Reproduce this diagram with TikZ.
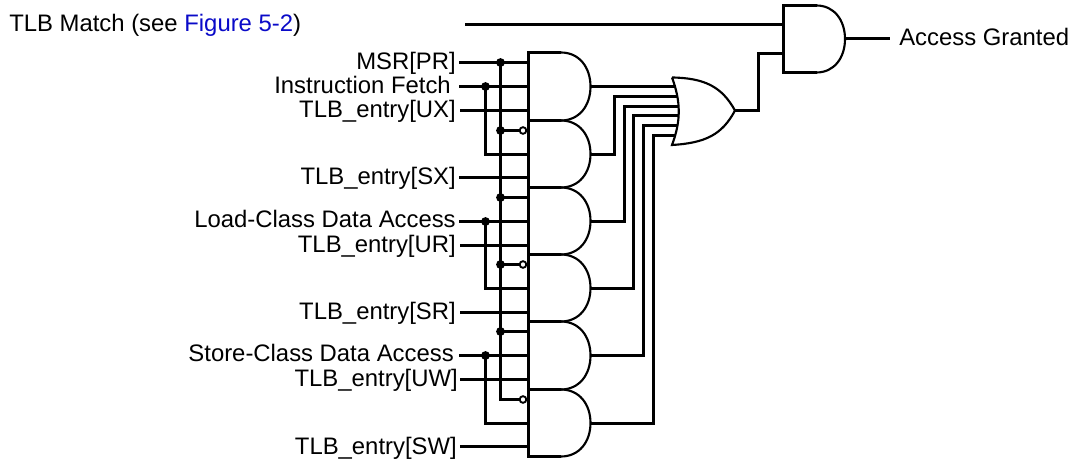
\documentclass[tikz,border=0pt]{standalone}
\usepackage{fontspec}
\setmainfont{Liberation Sans}
\definecolor{linkblue}{RGB}{10,10,200}
\usetikzlibrary{calc}
\tikzset{
  x=0.75pt,y=-0.75pt,
  wire/.style={line width=2.1pt,line cap=butt,line join=miter},
  gateedge/.style={line width=2.1pt},
  gatearc/.style={line width=1.6pt},
  sig/.style={font=\fontsize{17.9pt}{20pt}\selectfont,inner sep=0pt,anchor=base east},
  sigl/.style={font=\fontsize{17.9pt}{20pt}\selectfont,inner sep=0pt,anchor=base west},
  junction/.style={circle,fill=black,inner sep=0pt,minimum size=6.6pt},
  bubble/.style={circle,draw=black,fill=white,line width=1.4pt,inner sep=0pt,minimum size=5pt},
}
\newcommand{\andgate}[6]{% name, left x, top y, bottom y, arc-start x, tip x
  \coordinate (#1tl) at (#2,#3);
  \coordinate (#1bl) at (#2,#4);
  \coordinate (#1ts) at (#5,#3);
  \coordinate (#1bs) at (#5,#4);
  \coordinate (#1out) at (#6,{(#3+#4)/2});
  \draw[gateedge] (#1bs) -- (#1bl) -- (#1tl) -- (#1ts);
  \draw[gatearc] (#1ts) .. controls ($(#1ts)!0.62!(#6,#3)$) and (#6,{#3+0.22*(#4-#3)}) .. (#1out)
     .. controls (#6,{#4-0.22*(#4-#3)}) and ($(#1bs)!0.62!(#6,#4)$) .. (#1bs);
}
\begin{document}
\begin{tikzpicture}
\useasboundingbox (0,0) rectangle (1071,459);
% gates
\andgate{GA}{528.5}{52.5}{120.5}{561}{590.5}
\andgate{GB}{528.5}{120.5}{187.5}{561}{590.5}
\andgate{GC}{528.5}{187.5}{254.5}{561}{590.5}
\andgate{GD}{528.5}{254.5}{321.5}{561}{590.5}
\andgate{GE}{528.5}{321.5}{389.5}{561}{590.5}
\andgate{GF}{528.5}{389.5}{456.5}{561}{590.5}
\andgate{GZ}{783.5}{5.5}{72.5}{816.5}{845}
% labels
\node[sigl] (ltlb) at (9,32) {TLB Match (see {\color{linkblue}Figure 5-2})};
\node[sig] (lmsr) at (456,70) {MSR[PR]};
\node[sig] (lif) at (451,94) {Instruction Fetch};
\node[sig] (lux) at (456,118) {TLB\_entry[UX]};
\node[sig] (lsx) at (456,185) {TLB\_entry[SX]};
\node[sig] (lld) at (456,228) {Load-Class Data Access};
\node[sig] (lur) at (456,253) {TLB\_entry[UR]};
\node[sig] (lsr) at (456,320) {TLB\_entry[SR]};
\node[sig] (lst) at (454,362) {Store-Class Data Access};
\node[sig] (luw) at (458,387) {TLB\_entry[UW]};
\node[sig] (lsw) at (457,455) {TLB\_entry[SW]};
\node[sigl] (lag) at (899,46) {Access Granted};
% wire ends
\coordinate (s0) at (465,24.5);
\coordinate (sa) at (459,62.5);
\coordinate (sb) at (459,86.5);
\coordinate (sc) at (460,110.5);
\coordinate (sd) at (459,177.5);
\coordinate (se) at (459,221.5);
\coordinate (sf) at (460,245.5);
\coordinate (sg) at (460,312.5);
\coordinate (sh) at (459,355.5);
\coordinate (si) at (460,379.5);
\coordinate (sj) at (460,446.5);
\coordinate (tlbin) at (783.5,24.5);
\coordinate (orin) at (783.5,53.5);
\coordinate (agend) at (890,38.5);
\coordinate (GBo) at (590.5,154.5);
\coordinate (GCo) at (590.5,221.5);
\coordinate (GDo) at (590.5,288.5);
\coordinate (GFo) at (590.5,423.5);
\coordinate (GZo) at (845,38.5);
% input wires
\draw[wire] (s0) -- (tlbin);
\foreach \s in {sa,sb,sc,sd,se,sf,sg,sh,si,sj}{\draw[wire] (\s) -- (528.5,0 |- \s);}
% bus at x=500
\node[junction] (ja) at (500.5,62.5) {};
\node[junction] (jb) at (500.5,130.5) {};
\node[junction] (jc) at (500.5,197.5) {};
\node[junction] (jd) at (500.5,264.5) {};
\node[junction] (je) at (500.5,331.5) {};
\coordinate (jf) at (500.5,399.5);
\draw[wire] (ja.center) -- (jf) -- (521,399.5);
\node[bubble] (bb) at (523,130.5) {};
\node[bubble] (bd) at (523,264.5) {};
\node[bubble] (bf) at (523,399.5) {};
\draw[wire] (jb.center) -- (bb.west);
\draw[wire] (jd.center) -- (bd.west);
\draw[wire] (jc.center) -- (528.5,197.5);
\draw[wire] (je.center) -- (528.5,331.5);
% instruction type taps at x=485
\node[junction] (ia) at (485.5,86.5) {};
\node[junction] (ib) at (485.5,221.5) {};
\node[junction] (ic) at (485.5,355.5) {};
\draw[wire] (ia.center) -- (485.5,154.5) -- (528.5,154.5);
\draw[wire] (ib.center) -- (485.5,288.5) -- (528.5,288.5);
\draw[wire] (ic.center) -- (485.5,423.5) -- (528.5,423.5);
% OR gate
\coordinate (ortop) at (672,77.5);
\coordinate (orbot) at (672,145);
\coordinate (orout) at (735,110.5);
\draw[gatearc] (ortop) .. controls (681,102) and (681,121) .. (orbot)
  .. controls (705,143) and (722,135) .. (orout)
  .. controls (722,87) and (705,78) .. (ortop);
% gate outputs into OR
\draw[wire] (GAout) -- (676,86.5);
\draw[wire] (GBo) -- (614.5,154.5) -- (614.5,96.5) -- (678,96.5);
\draw[wire] (GCo) -- (624.5,221.5) -- (624.5,106.5) -- (679,106.5);
\draw[wire] (GDo) -- (633.5,288.5) -- (633.5,115.5) -- (679,115.5);
\draw[wire] (GEout) -- (643.5,355.5) -- (643.5,125.5) -- (678,125.5);
\draw[wire] (GFo) -- (653.5,423.5) -- (653.5,135.5) -- (676,135.5);
% OR to final AND
\draw[wire] (orout) -- (758.5,110.5) -- (758.5,53.5) -- (orin);
\draw[wire] (GZo) -- (agend);
\end{tikzpicture}
\end{document}
